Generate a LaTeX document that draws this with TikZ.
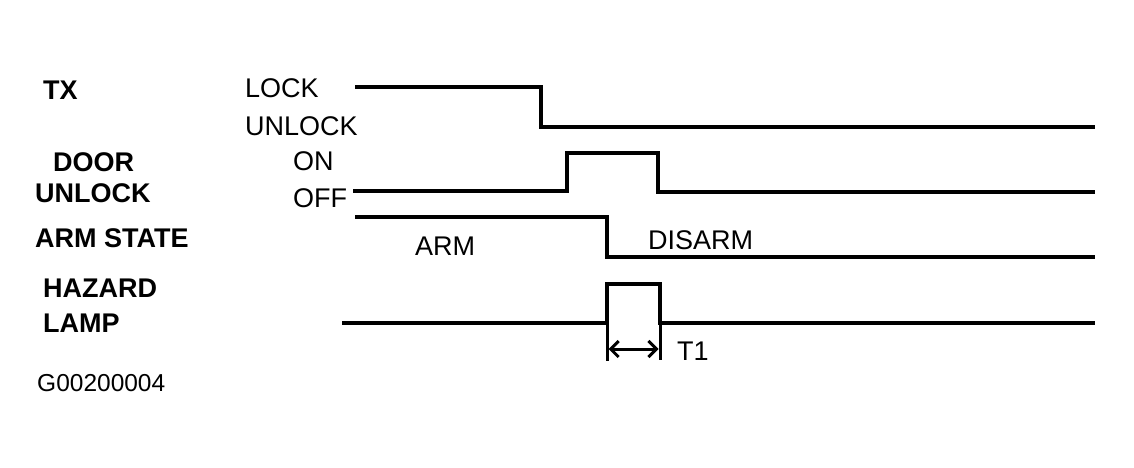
\documentclass[tikz,border=0pt]{standalone}
\usepackage{fontspec}
\setmainfont{Liberation Sans}
\usetikzlibrary{arrows.meta}
\begin{document}
\begin{tikzpicture}[x=1pt,y=-1pt,
  lbl/.style={anchor=west,inner sep=0pt,font=\fontsize{27}{27}\selectfont\bfseries},
  st/.style={anchor=west,inner sep=0pt,font=\fontsize{27}{27}\selectfont},
  code/.style={anchor=west,inner sep=0pt,font=\fontsize{24.5}{24.5}\selectfont},
  wave/.style={line width=3.2pt,line join=miter,line cap=butt},
  dim/.style={line width=3pt},
  dimarrow/.style={line width=3pt,{Straight Barb[length=8pt,width=16pt,line width=3pt]}-{Straight Barb[length=8pt,width=16pt,line width=3pt]}}]
\useasboundingbox (0,0) rectangle (1134,468);
% left labels
\node[lbl] (tx) at (43,90) {TX};
\node[lbl] (door) at (53,162) {DOOR};
\node[lbl] (unl) at (35,193) {UNLOCK};
\node[lbl] (arm) at (35,238) {ARM STATE};
\node[lbl] (haz) at (43,288) {HAZARD};
\node[lbl] (lamp) at (43,323) {LAMP};
\node[code] (code) at (37,383) {G00200004};
% state labels
\node[st] (lock) at (245,88) {LOCK};
\node[st] (unlock) at (245,126) {UNLOCK};
\node[st] (on) at (293,161) {ON};
\node[st] (off) at (293,198) {OFF};
\node[st] (armt) at (415,246) {ARM};
\node[st] (disarm) at (648,240) {DISARM};
\node[st] (t1) at (677,351) {T1};
% waveforms
\draw[wave] (355,87) -- (541,87) -- (541,127) -- (1095,127);
\draw[wave] (353,191) -- (567,191) -- (567,153) -- (658,153) -- (658,192) -- (1095,192);
\draw[wave] (355,217) -- (607,217) -- (607,257) -- (1095,257);
\draw[wave] (342,323) -- (607,323) -- (607,284) -- (660,284) -- (660,323) -- (1095,323);
% T1 dimension
\coordinate (da) at (607,323);
\coordinate (db) at (660,323);
\coordinate (dae) at (607,361);
\coordinate (dbe) at (660,360);
\draw[dim] (da) -- (dae);
\draw[dim] (db) -- (dbe);
\draw[dimarrow] (608.5,349) -- (658.5,349);
\end{tikzpicture}
\end{document}
